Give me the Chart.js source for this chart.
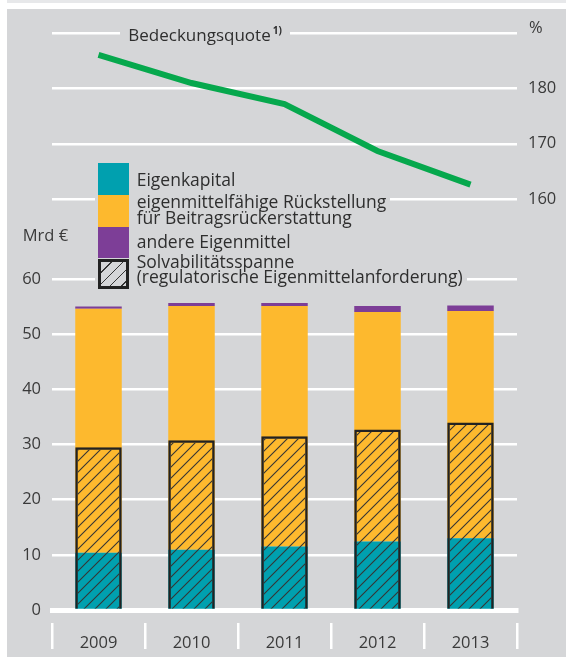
<!DOCTYPE html>
<html lang="de">
<head>
<meta charset="utf-8">
<title>Bedeckungsquote und Eigenmittel</title>
<script src="https://cdn.jsdelivr.net/npm/chart.js@4.4.1/dist/chart.umd.min.js"></script>
<style>
    html, body { margin: 0; padding: 0; background: #fff; }
    body { width: 566px; height: 657px; position: relative; overflow: hidden; font-family: 'Open Sans', sans-serif; color: #333; }
    #strip { position: absolute; left: 7px; top: 0; width: 559px; height: 3px; background: #e7e8ea; }
    #panel { position: absolute; left: 7px; top: 9px; width: 559px; height: 648px; background: #d5d6d8; }
    canvas { position: absolute; left: 0; top: 0; }
    .lbl { position: absolute; white-space: nowrap; line-height: 1; }
    .bg { position: absolute; background: #d5d6d8; }
    .swatch { position: absolute; left: 98px; width: 31px; box-sizing: border-box; }
    sup { font-size: 10px; font-weight: 700; vertical-align: 7px; margin-left: 2px; }
</style>
</head>
<body>
<div id="strip"></div>
<div id="panel"></div>
<canvas id="barChart" width="566" height="657"></canvas>
<canvas id="lineChart" width="566" height="230"></canvas>
<div id="bgLayer"></div>
<div id="textLayer"></div>

<script>
// Data
const years = ['2009', '2010', '2011', '2012', '2013'];
const eigenkapital = [10.4, 10.9, 11.5, 12.4, 13.0];
const rueckstellung = [44.2, 44.2, 43.6, 41.6, 41.2];
const andereEigenmittel = [0.4, 0.55, 0.55, 1.1, 1.0];
const solvabilitaet = [29.5, 30.75, 31.5, 32.7, 34.0];
const bedeckungsquote = [186.1, 181.0, 177.2, 168.7, 162.6];

const barTicks = [0, 10, 20, 30, 40, 50, 60];
const quoteTicks = [160, 170, 180, 190];

const seriesLabels = [
    'Eigenkapital',
    'eigenmittelfähige Rückstellung\nfür Beitragsrückerstattung',
    'andere Eigenmittel',
    'Solvabilitätsspanne\n(regulatorische Eigenmittelanforderung)'
];

const COLORS = {
    teal: '#00a0af',
    orange: '#fdb92e',
    purple: '#7d3e97',
    green: '#06a84d',
    grid: '#ffffff',
    text: '#3a3a3a',
    panel: '#d5d6d8'
};

Chart.defaults.font.family = "'Open Sans', sans-serif";
Chart.defaults.color = COLORS.text;

function makeHatch() {
    const size = 11;
    const c = document.createElement('canvas');
    c.width = size;
    c.height = size;
    const g = c.getContext('2d');
    g.strokeStyle = '#353535';
    g.lineWidth = 1.1;
    g.beginPath();
    g.moveTo(-1, size + 1); g.lineTo(size + 1, -1);
    g.moveTo(-1, 1); g.lineTo(1, -1);
    g.moveTo(size - 1, size + 1); g.lineTo(size + 1, size - 1);
    g.stroke();
    return document.getElementById('barChart').getContext('2d').createPattern(c, 'repeat');
}

// --- BAR CHART (Mrd €) ---
new Chart(document.getElementById('barChart'), {
    type: 'bar',
    data: {
        labels: years,
        datasets: [
            { label: seriesLabels[0], data: eigenkapital, backgroundColor: COLORS.teal, stack: 'eigen', order: 1 },
            { label: seriesLabels[1], data: rueckstellung, backgroundColor: COLORS.orange, stack: 'eigen', order: 1 },
            { label: seriesLabels[2], data: andereEigenmittel, backgroundColor: COLORS.purple, stack: 'eigen', order: 1 },
            {
                label: seriesLabels[3],
                data: solvabilitaet,
                backgroundColor: makeHatch(),
                borderColor: '#222',
                borderWidth: { top: 2.5, left: 2.5, right: 2.5, bottom: 0 },
                stack: 'solv',
                grouped: false,
                order: 0
            }
        ]
    },
    options: {
        responsive: false,
        animation: false,
        categoryPercentage: 1,
        barPercentage: 0.5,
        layout: { padding: { left: 0, right: 49, top: 279, bottom: 0 } },
        plugins: { legend: { display: false }, tooltip: { enabled: false } },
        scales: {
            x: {
                z: 1,
                offset: true,
                border: { display: true, color: COLORS.grid, width: 5 },
                grid: {
                    offset: true,
                    drawOnChartArea: false,
                    drawTicks: true,
                    tickLength: 39,
                    color: COLORS.grid,
                    lineWidth: 2.5,
                    tickBorderDash: [0, 10, 26, 100]
                },
                ticks: { padding: -16, font: { size: 16.5 }, color: COLORS.text },
                afterFit: (scale) => { scale.height = 47; }
            },
            y: {
                min: 0,
                max: 60,
                afterBuildTicks: (scale) => { scale.ticks = barTicks.map(v => ({ value: v })); },
                border: { display: false },
                grid: { color: COLORS.grid, lineWidth: 2.5, drawTicks: false },
                ticks: { padding: 11, font: { size: 16.5 }, color: COLORS.text },
                afterFit: (scale) => { scale.width = 52; }
            }
        }
    }
});

// --- LINE CHART (Bedeckungsquote, %) ---
new Chart(document.getElementById('lineChart'), {
    type: 'line',
    data: {
        labels: years,
        datasets: [{
            data: bedeckungsquote,
            borderColor: COLORS.green,
            borderWidth: 6,
            borderCapStyle: 'butt',
            pointRadius: 0,
            tension: 0
        }]
    },
    options: {
        responsive: false,
        animation: false,
        layout: { padding: { left: 52, right: 0, top: 33.3, bottom: 31 } },
        plugins: { legend: { display: false }, tooltip: { enabled: false } },
        scales: {
            x: { display: false, offset: true },
            y: {
                position: 'right',
                min: 160,
                max: 190,
                afterBuildTicks: (scale) => { scale.ticks = quoteTicks.map(v => ({ value: v })); },
                border: { display: false },
                grid: { color: COLORS.grid, lineWidth: 2.5, drawTicks: false },
                ticks: {
                    padding: 11,
                    font: { size: 16.5 },
                    color: COLORS.text,
                    callback: (v) => (v === 190 ? '' : v)
                },
                afterFit: (scale) => { scale.width = 49; }
            }
        }
    }
});

// --- TEXT LABELS AND LEGEND (HTML) ---
const bgLayer = document.getElementById('bgLayer');
const textLayer = document.getElementById('textLayer');

function addBg(left, top, width, height) {
    const bg = document.createElement('div');
    bg.className = 'bg';
    Object.assign(bg.style, { left: left + 'px', top: top + 'px', width: width + 'px', height: height + 'px' });
    bgLayer.appendChild(bg);
}

// baseline -> top offset for line-height 1 in Open Sans
const topFor = (baseline, size) => baseline - size * 0.888;

// text with a grey patch behind it that cuts the gridlines
function addLabel(html, left, baseline, size, pad, color) {
    const el = document.createElement('div');
    el.className = 'lbl';
    el.innerHTML = html;
    el.style.left = left + 'px';
    el.style.top = topFor(baseline, size) + 'px';
    el.style.fontSize = size + 'px';
    el.style.color = color;
    textLayer.appendChild(el);
    if (pad !== null) {
        const w = el.getBoundingClientRect().width;
        addBg(left - pad, baseline - size * 0.75, w + pad * 2, size * 1.0);
    }
}

addLabel('Bedeckungsquote<sup>1)</sup>', 128.3, 40, 17, 8, '#2e2e2e');
addLabel('%', 529, 34, 16.5, null, COLORS.text);
addLabel('Mrd €', 22.7, 241.7, 16.5, null, COLORS.text);

// legend swatches
addBg(95, 160, 38, 132);
const swatchTops = [163.3, 195, 226.7, 259];
const swatchFills = [COLORS.teal, COLORS.orange, COLORS.purple, null];
swatchTops.forEach((t, i) => {
    const sw = document.createElement('div');
    sw.className = 'swatch';
    sw.style.top = t + 'px';
    if (swatchFills[i]) {
        sw.style.height = '31.7px';
        sw.style.background = swatchFills[i];
    } else {
        sw.style.height = '29.5px';
        sw.style.border = '3px solid #222';
        sw.style.background = 'repeating-linear-gradient(135deg, transparent 0 7px, #353535 7px 8px)';
    }
    textLayer.appendChild(sw);
});

const legendBaselines = [[186.7], [208.3, 225], [248.3], [268.3, 283.5]];
seriesLabels.forEach((label, i) => {
    label.split('\n').forEach((line, j) => {
        addLabel(line, 136.7, legendBaselines[i][j], 17.5, 4, '#2e2e2e');
    });
});
</script>
</body>
</html>
